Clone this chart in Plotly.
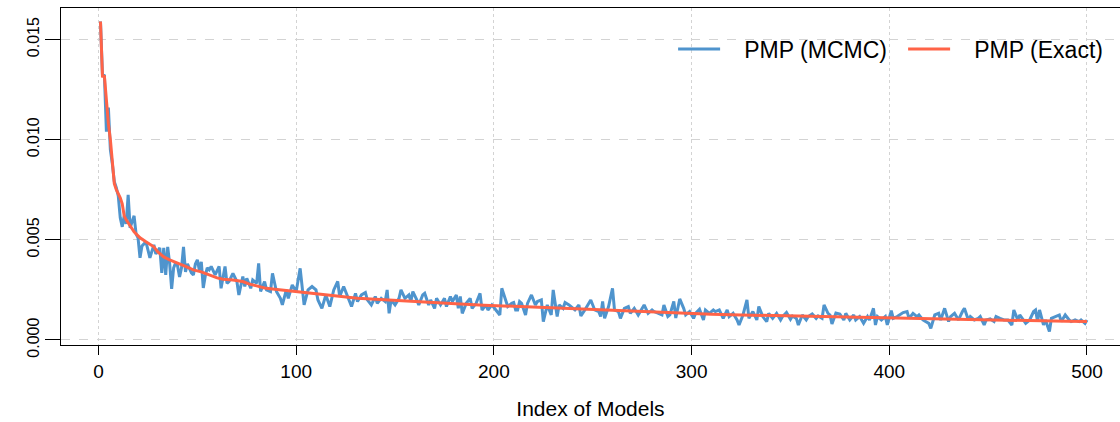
import plotly.graph_objects as go

# ---- data ----
mcmc_idx = [1, 2, 3, 4, 5, 6, 7, 8, 9, 10, 11, 12, 13, 14, 15, 16, 18, 19, 20, 21, 22, 24, 25, 26, 28, 29,
            31, 32, 33, 34, 35, 36, 37, 38, 39, 40, 41, 42, 43, 44, 45, 46, 47, 48, 49, 50, 51, 52, 53, 54,
            55, 56, 57, 59, 61, 62, 64, 65, 66, 68, 70, 71, 73, 74, 75, 77, 78, 80, 81, 82, 84, 85, 87, 88,
            90, 92, 93, 95, 96, 98, 100, 102, 104, 106, 108, 110, 111, 113, 115, 117, 119, 121, 122, 124,
            126, 128, 130, 131, 133, 135, 136, 138, 140, 141, 143, 145, 146, 147, 148, 150, 152, 153, 155,
            157, 158, 159, 161, 162, 164, 165, 167, 168, 170, 171, 173, 175, 176, 178, 179, 181, 182, 183,
            184, 186, 188, 189, 191, 193, 194, 196, 197, 199, 201, 203, 204, 206, 207, 209, 210, 211, 212,
            213, 214, 216, 217, 219, 221, 222, 224, 225, 227, 229, 230, 232, 233, 235, 236, 238, 240, 241,
            243, 244, 246, 248, 249, 251, 253, 254, 255, 256, 258, 260, 261, 263, 264, 266, 268, 269, 271,
            273, 275, 276, 278, 280, 281, 283, 285, 286, 288, 289, 291, 292, 294, 296, 297, 299, 301, 302,
            304, 306, 307, 309, 311, 312, 314, 316, 318, 319, 321, 323, 324, 326, 328, 329, 331, 333, 334,
            336, 338, 339, 341, 343, 345, 346, 348, 350, 351, 353, 354, 356, 358, 359, 361, 363, 364, 366,
            367, 369, 370, 371, 373, 375, 377, 378, 380, 382, 383, 385, 387, 389, 390, 392, 393, 394, 396,
            398, 399, 401, 402, 404, 405, 407, 409, 410, 412, 414, 415, 417, 420, 421, 423, 425, 426, 428,
            430, 431, 433, 435, 437, 438, 440, 441, 443, 445, 446, 448, 449, 451, 453, 454, 456, 458, 460,
            462, 463, 465, 466, 468, 469, 471, 473, 474, 475, 476, 478, 479, 481, 482, 484, 486, 487, 489,
            491, 492, 494, 496, 497, 499, 500]

mcmc_pmp = [0.0159, 0.01325, 0.0132, 0.0104, 0.0116, 0.0095, 0.0088, 0.0079, 0.0076, 0.0072, 0.0061,
            0.00565, 0.0062, 0.0058, 0.00725, 0.0056, 0.0062, 0.0053, 0.0051, 0.0041, 0.0047, 0.0049,
            0.0045, 0.0041, 0.00475, 0.0043, 0.0046, 0.00335, 0.0046, 0.00325, 0.00465, 0.0038, 0.00255,
            0.0036, 0.00385, 0.0037, 0.00315, 0.0036, 0.00465, 0.0034, 0.0038, 0.0036, 0.00335, 0.00325,
            0.0038, 0.0040, 0.0035, 0.0039, 0.0026, 0.0032, 0.0036, 0.0035, 0.00367, 0.00325, 0.00367,
            0.00258, 0.00367, 0.00283, 0.00292, 0.00333, 0.00292, 0.00225, 0.00317, 0.00267, 0.00308,
            0.00258, 0.0030, 0.00283, 0.00383, 0.00242, 0.00292, 0.0025, 0.00242, 0.00333, 0.00242,
            0.00208, 0.00175, 0.0025, 0.00208, 0.00275, 0.00242, 0.00358, 0.00175, 0.0025, 0.00267,
            0.0025, 0.0020, 0.00158, 0.00225, 0.00167, 0.0025, 0.00292, 0.00217, 0.00267, 0.00217,
            0.00167, 0.00233, 0.00192, 0.00225, 0.00237, 0.0020, 0.00175, 0.00217, 0.00183, 0.00208,
            0.00192, 0.0025, 0.00133, 0.0020, 0.00175, 0.00208, 0.0025, 0.00208, 0.00225, 0.00192,
            0.00242, 0.0020, 0.00175, 0.00225, 0.00233, 0.00175, 0.0020, 0.00158, 0.00208, 0.00175,
            0.00208, 0.00167, 0.00217, 0.00192, 0.00225, 0.00158, 0.00217, 0.00133, 0.00183, 0.00208,
            0.00158, 0.00183, 0.00233, 0.0015, 0.00175, 0.0015, 0.00175, 0.0015, 0.00125, 0.00258,
            0.00192, 0.00167, 0.00183, 0.00187, 0.0015, 0.0015, 0.00192, 0.00183, 0.00125, 0.00183,
            0.00225, 0.00175, 0.00192, 0.0020, 0.00092, 0.00175, 0.00125, 0.0025, 0.00117, 0.00175,
            0.00158, 0.00187, 0.00175, 0.00158, 0.0015, 0.00175, 0.0012, 0.0015, 0.00183, 0.0020,
            0.0015, 0.00142, 0.00117, 0.00192, 0.00108, 0.00167, 0.00258, 0.0015, 0.00142, 0.00108,
            0.00158, 0.00167, 0.00133, 0.00158, 0.00125, 0.00158, 0.00175, 0.00133, 0.0015, 0.00142,
            0.00133, 0.00125, 0.00175, 0.00117, 0.00125, 0.00192, 0.0011, 0.00205, 0.00158, 0.00125,
            0.00142, 0.00108, 0.00133, 0.00153, 0.0010, 0.0015, 0.00133, 0.0015, 0.00142, 0.0015,
            0.00108, 0.0015, 0.00117, 0.00133, 0.0010, 0.00075, 0.00125, 0.0020, 0.00108, 0.00142,
            0.0010, 0.00167, 0.00117, 0.00092, 0.00133, 0.00108, 0.00133, 0.0010, 0.00117, 0.00137,
            0.00103, 0.0012, 0.00108, 0.00075, 0.00125, 0.0010, 0.00117, 0.0013, 0.00108, 0.0012,
            0.00108, 0.00175, 0.00133, 0.00125, 0.0008, 0.00135, 0.0013, 0.0010, 0.00133, 0.0010,
            0.00125, 0.0010, 0.00117, 0.00083, 0.00117, 0.0010, 0.00158, 0.00075, 0.00117, 0.0010,
            0.00117, 0.00075, 0.00147, 0.00108, 0.00117, 0.00125, 0.00137, 0.00142, 0.00108, 0.00133,
            0.00117, 0.00125, 0.0010, 0.00083, 0.00058, 0.00125, 0.00133, 0.0010, 0.00158, 0.00092,
            0.00117, 0.00133, 0.0010, 0.00142, 0.00158, 0.0010, 0.00117, 0.0010, 0.00108, 0.00117,
            0.00075, 0.0010, 0.00105, 0.00092, 0.00117, 0.00108, 0.0010, 0.0010, 0.00075, 0.0015,
            0.0010, 0.00125, 0.0010, 0.00083, 0.0010, 0.00142, 0.0015, 0.00092, 0.0015, 0.00075,
            0.0010, 0.00042, 0.00108, 0.00117, 0.00125, 0.00092, 0.00125, 0.0010, 0.00092, 0.0010,
            0.00092, 0.0010, 0.00083, 0.0010]

exact_idx = [1, 2, 3, 4, 5, 6, 7, 8, 9, 10, 11, 12, 13, 14, 16, 18, 20, 21, 24, 28, 30, 33, 36, 40, 44,
             48, 52, 56, 60, 63, 68, 73, 76, 80, 84, 88, 94, 100, 107, 114, 120, 131, 140, 150, 161,
             170, 183, 195, 208, 220, 235, 250, 265, 280, 294, 310, 325, 340, 355, 375, 395, 415, 435,
             456, 475, 490, 500]
exact_pmp = [0.0159, 0.01317, 0.01315, 0.0118, 0.0108, 0.0100, 0.0089, 0.0078, 0.0075, 0.0073, 0.0071,
             0.0068, 0.0062, 0.0060, 0.0057, 0.0054, 0.0052, 0.0051, 0.0049, 0.00465, 0.0044, 0.00415,
             0.0040, 0.00385, 0.00368, 0.0035, 0.0034, 0.00325, 0.0031, 0.00303, 0.0030, 0.00292,
             0.0028, 0.0027, 0.0026, 0.00255, 0.00248, 0.00242, 0.00235, 0.00228, 0.0022, 0.00208,
             0.00203, 0.00197, 0.00192, 0.00186, 0.0018, 0.00174, 0.00169, 0.00163, 0.00157, 0.0015,
             0.00145, 0.00139, 0.00134, 0.00129, 0.00125, 0.00122, 0.00119, 0.00116, 0.00111, 0.00106,
             0.00101, 0.00098, 0.00095, 0.00093, 0.00092]

series_names = ["PMP (MCMC)", "PMP (Exact)"]
x_ticks = [0, 100, 200, 300, 400, 500]
y_ticks = [0.000, 0.005, 0.010, 0.015]
y_tick_labels = ["0.000", "0.005", "0.010", "0.015"]

BLUE = "#4F94CD"
RED = "#FF6347"
FONT = "Liberation Sans, Arial, sans-serif"
PAD = "\u00a0\u00a0\u00a0"  # gap between legend line sample and its label

fig = go.Figure()
fig.add_trace(go.Scatter(x=mcmc_idx, y=mcmc_pmp, mode="lines", name=PAD + series_names[0],
                         line=dict(color=BLUE, width=3)))
fig.add_trace(go.Scatter(x=exact_idx, y=exact_pmp, mode="lines", name=PAD + series_names[1],
                         line=dict(color=RED, width=3)))

fig.update_layout(
    width=1120, height=422,
    margin=dict(l=61, r=0, t=8, b=77, autoexpand=False),
    paper_bgcolor="white", plot_bgcolor="white",
    font=dict(family=FONT, color="black"),
    showlegend=True,
    legend=dict(orientation="h", x=0.578, xanchor="left", y=0.878, yanchor="middle",
                bgcolor="rgba(0,0,0,0)", font=dict(size=23), traceorder="normal",
                itemwidth=42, entrywidth=173, entrywidthmode="pixels"),
)
fig.update_xaxes(
    range=[-18.97, 516.7], tickvals=x_ticks, ticktext=[str(v) for v in x_ticks],
    showline=True, linecolor="black", linewidth=1, mirror=True,
    ticks="outside", ticklen=9, tickcolor="black", tickfont=dict(size=19),
    showgrid=True, gridcolor="#D3D3D3", griddash="dot", gridwidth=1,
    zeroline=False,
    title=dict(text="Index of Models", font=dict(size=21), standoff=20),
)
fig.update_yaxes(
    range=[-0.00025, 0.016575], tickvals=y_ticks, ticktext=y_tick_labels,
    showline=True, linecolor="black", linewidth=1, mirror=False,
    ticks="outside", ticklen=15, tickcolor="black", tickangle=-90, tickfont=dict(size=16),
    showgrid=True, gridcolor="#D3D3D3", griddash="dash", gridwidth=1,
    zeroline=False,
)

fig.write_html("out.html")
